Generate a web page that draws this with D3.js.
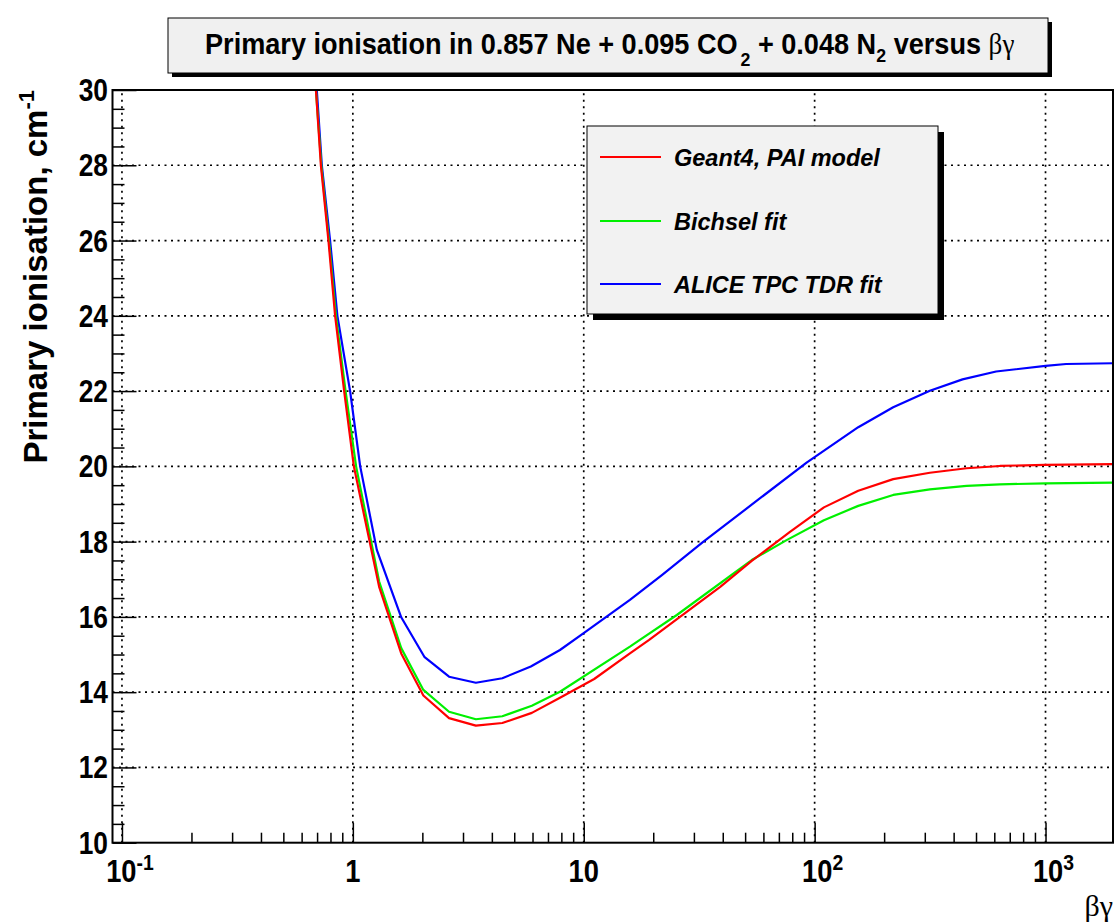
<!DOCTYPE html>
<html><head><meta charset="utf-8">
<script src="https://cdn.jsdelivr.net/npm/d3@7"></script>
<style>
html,body{margin:0;padding:0;background:#fff;}
svg{display:block;font-family:"Liberation Sans",Arial,Helvetica,sans-serif;}
</style></head>
<body>
<svg id="c" width="1117" height="922"></svg>
<script>
// ---- data ----
const seriesNames = ["Geant4, PAI model", "Bichsel fit", "ALICE TPC TDR fit"];
const seriesColors = ["#ff0000", "#00f000", "#0000ff"];

const paiX = [0.692, 0.727, 0.784, 0.838, 0.917, 1.01, 1.30, 1.62, 2.02, 2.61, 3.41, 4.44, 5.96, 7.89, 11.1, 15.85, 19.2, 39.0, 53.4, 78.2, 109.7, 154.5, 218.9, 315.5, 455, 634, 993, 1960];
const paiY = [30, 28, 26, 24, 22, 20, 16.80, 15.03, 13.91, 13.31, 13.11, 13.18, 13.45, 13.85, 14.35, 15.03, 15.39, 16.80, 17.49, 18.26, 18.91, 19.35, 19.66, 19.83, 19.95, 20.01, 20.04, 20.06];

const bichselX = [0.692, 0.73, 0.788, 0.845, 0.93, 1.033, 1.30, 1.62, 2.02, 2.61, 3.41, 4.44, 5.96, 7.89, 15.85, 17.5, 25.3, 53.4, 75.6, 109.7, 154.5, 218.9, 315.5, 455, 634, 1000, 1960];
const bichselY = [30, 28, 26, 24, 22, 20, 16.94, 15.17, 14.06, 13.48, 13.28, 13.36, 13.64, 14.01, 15.21, 15.39, 16.05, 17.51, 18.04, 18.57, 18.95, 19.24, 19.39, 19.48, 19.52, 19.55, 19.57];

const aliceX = [0.698, 0.734, 0.797, 0.857, 0.973, 1.076, 1.27, 1.62, 2.04, 2.61, 3.41, 4.44, 5.9, 7.89, 9.96, 15.85, 21.8, 33, 92.3, 154.5, 218.9, 315.5, 437, 611, 1000, 1228, 1960];
const aliceY = [30, 28, 26, 24, 22, 20, 17.78, 15.99, 14.94, 14.41, 14.25, 14.37, 14.68, 15.12, 15.56, 16.45, 17.11, 18.0, 20.10, 21.04, 21.57, 22.01, 22.31, 22.52, 22.67, 22.72, 22.74];

const xMajorTicks = [0.1, 1, 10, 100, 1000];
const xMajorLabels = [["10","-1"], ["1",""], ["10",""], ["10","2"], ["10","3"]];
const yMajorTicks = [10, 12, 14, 16, 18, 20, 22, 24, 26, 28, 30];
const xDomain = [0.091, 1960];
const yDomain = [10, 30];

// ---- layout ----
const svg = d3.select("#c");
const L = 112.5, R = 1113, T = 90, B = 842.7;
const x = d3.scaleLog().domain(xDomain).range([L, R]);
const y = d3.scaleLinear().domain(yDomain).range([B, T]);

svg.append("rect").attr("width",1117).attr("height",922).attr("fill","#fff");

// grid
const grid = svg.append("g").attr("stroke","#000").attr("stroke-width",1.7).attr("stroke-dasharray","2,4.5");
yMajorTicks.filter(v=>v>10 && v<30).forEach(v=>{
  grid.append("line").attr("x1",L).attr("x2",R).attr("y1",y(v)).attr("y2",y(v));
});
xMajorTicks.forEach(v=>{
  grid.append("line").attr("x1",x(v)).attr("x2",x(v)).attr("y1",B).attr("y2",T);
});

// clip
svg.append("clipPath").attr("id","clip").append("rect").attr("x",L).attr("y",T).attr("width",R-L).attr("height",B-T);

const series = [[paiX,paiY],[bichselX,bichselY],[aliceX,aliceY]];
const line = d3.line().x(d=>x(d[0])).y(d=>y(d[1]));
const plot = svg.append("g").attr("clip-path","url(#clip)");
[2,1,0].forEach(i=>{
  const pts = series[i][0].map((v,j)=>[v, series[i][1][j]]);
  plot.append("path").attr("d", line(pts)).attr("fill","none")
    .attr("stroke", seriesColors[i]).attr("stroke-width",2.2).attr("stroke-linejoin","round");
});

// frame
svg.append("rect").attr("x",L).attr("y",T).attr("width",R-L).attr("height",B-T)
  .attr("fill","none").attr("stroke","#000").attr("stroke-width",2);

// x axis ticks (inward)
const xMinor = [];
xMajorTicks.forEach(d=>{ for(let k=2;k<=9;k++){ const v=d*k; if(v<=xDomain[1]) xMinor.push(v);} });
const xAxis = d3.axisBottom(x).tickValues(xMajorTicks).tickSizeInner(-20).tickSizeOuter(0).tickFormat("");
svg.append("g").attr("transform",`translate(0,${B})`).call(xAxis)
  .call(g=>{g.select(".domain").remove(); g.selectAll("line").attr("stroke","#000").attr("stroke-width",1.5);});
const xAxisMinor = d3.axisBottom(x).tickValues(xMinor).tickSizeInner(-10).tickSizeOuter(0).tickFormat("");
svg.append("g").attr("transform",`translate(0,${B})`).call(xAxisMinor)
  .call(g=>{g.select(".domain").remove(); g.selectAll("line").attr("stroke","#000").attr("stroke-width",1.5);});

// y axis ticks (inward)
const yMinor = d3.range(10, 30.001, 0.5).filter(v=>Math.abs(v%2)>0.01);
const yAxis = d3.axisLeft(y).tickValues(yMajorTicks).tickSizeInner(-24).tickSizeOuter(0).tickFormat("");
svg.append("g").attr("transform",`translate(${L},0)`).call(yAxis)
  .call(g=>{g.select(".domain").remove(); g.selectAll("line").attr("stroke","#000").attr("stroke-width",1.5);});
const yAxisMinor = d3.axisLeft(y).tickValues(yMinor).tickSizeInner(-12).tickSizeOuter(0).tickFormat("");
svg.append("g").attr("transform",`translate(${L},0)`).call(yAxisMinor)
  .call(g=>{g.select(".domain").remove(); g.selectAll("line").attr("stroke","#000").attr("stroke-width",1.5);});

// y tick labels
yMajorTicks.forEach(v=>{
  svg.append("text").attr("x",108).attr("y",y(v)+11).attr("text-anchor","end")
    .attr("font-size",31).attr("font-weight","bold").attr("transform",`translate(108,0) scale(0.85,1) translate(-108,0)`)
    .text(v);
});

// x tick labels
xMajorTicks.forEach((v,i)=>{
  const t = svg.append("text").attr("y",882).attr("font-size",31).attr("font-weight","bold").attr("text-anchor","middle");
  const cx = x(v) + (xMajorLabels[i][1] ? 8 : 0);
  t.attr("transform",`translate(${cx},0) scale(0.88,1) translate(${-cx},0)`).attr("x",cx);
  t.append("tspan").text(xMajorLabels[i][0]);
  if(xMajorLabels[i][1]) t.append("tspan").attr("dy",-12).attr("font-size",22).text(xMajorLabels[i][1]);
});

// x axis title
svg.append("text").attr("x",1113).attr("y",916).attr("text-anchor","end")
  .attr("font-size",30).attr("font-family","Liberation Serif, serif").text("βγ");

// y axis title
const yt = svg.append("text").attr("transform","translate(47,90) rotate(-90)")
  .attr("text-anchor","end").attr("font-size",33).attr("font-weight","bold");
yt.append("tspan").text("Primary ionisation, cm");
yt.append("tspan").attr("dy",-13).attr("font-size",22).text("-1");

// title box
svg.append("rect").attr("x",172).attr("y",22).attr("width",880).attr("height",55).attr("fill","#000");
svg.append("rect").attr("x",168).attr("y",18).attr("width",880).attr("height",55).attr("fill","#f0f0f0").attr("stroke","#000").attr("stroke-width",1);
const tt = svg.append("text").attr("x",205).attr("y",54).attr("font-size",29).attr("font-weight","bold");
tt.append("tspan").text("Primary ionisation in 0.857 Ne + 0.095 CO");
tt.append("tspan").attr("dx",3).attr("dy",12).attr("font-size",19).text("2");
tt.append("tspan").attr("dy",-12).text(" + 0.048 N");
tt.append("tspan").attr("dy",8).attr("font-size",19).text("2");
tt.append("tspan").attr("dy",-8).text(" versus ");
tt.append("tspan").attr("font-weight","normal").attr("font-family","Liberation Serif, serif").text("βγ");
const bb = tt.node().getBBox();
const targetW = 810;
tt.attr("transform",`translate(205,0) scale(${targetW/bb.width},1) translate(-205,0)`);

// legend
const lg = svg.append("g");
lg.append("rect").attr("x",593).attr("y",132).attr("width",351).attr("height",188).attr("fill","#000");
lg.append("rect").attr("x",587).attr("y",126).attr("width",351).attr("height",188).attr("fill","#f2f2f2").attr("stroke","#000").attr("stroke-width",1);
const legY = [157, 221, 284];
seriesNames.forEach((n,i)=>{
  lg.append("line").attr("x1",600).attr("x2",661).attr("y1",legY[i]).attr("y2",legY[i])
    .attr("stroke",seriesColors[i]).attr("stroke-width",2);
  lg.append("text").attr("x",674).attr("y",legY[i]+8.5).attr("font-size",23.5)
    .attr("font-weight","bold").attr("font-style","italic").text(n);
});
</script>
</body></html>
